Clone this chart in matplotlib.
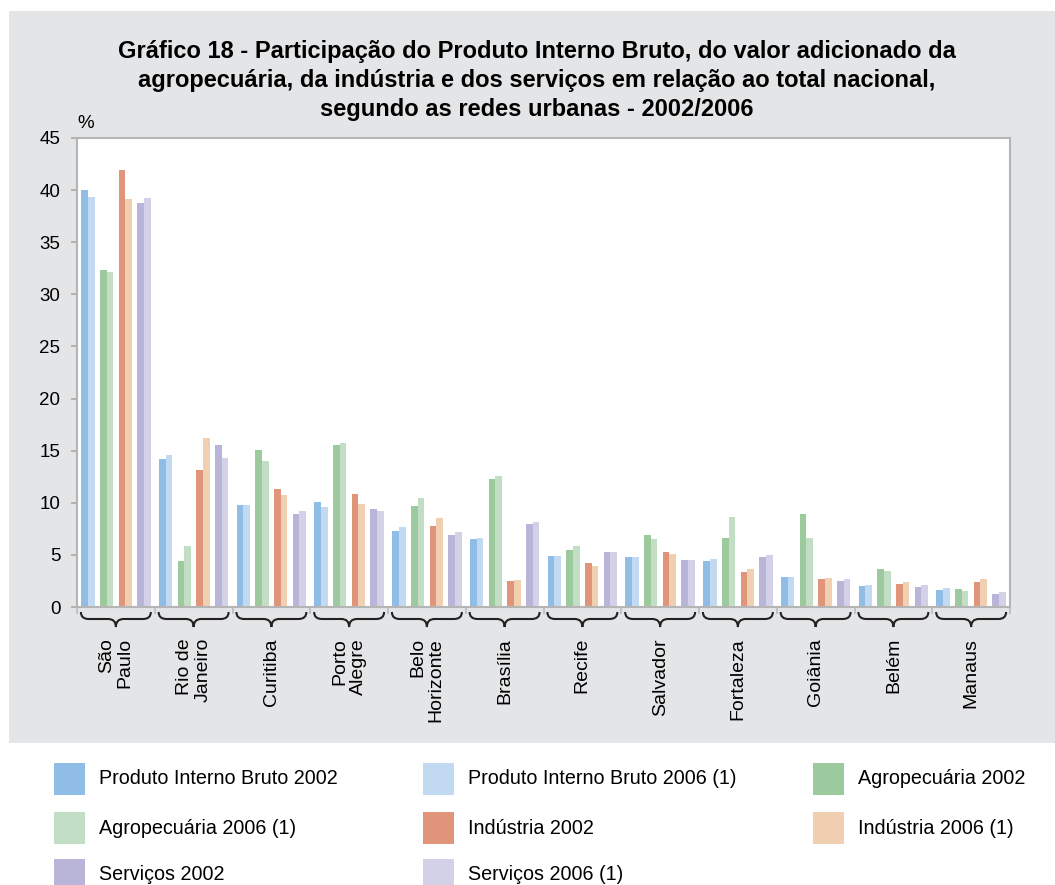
import numpy as np
import matplotlib
matplotlib.use("Agg")
import matplotlib.pyplot as plt
from matplotlib.patches import Rectangle, PathPatch
from matplotlib.path import Path
import matplotlib.transforms as mtransforms

plt.rcParams['font.family'] = ['Liberation Sans', 'DejaVu Sans']

cidades = ["São\nPaulo", "Rio de\nJaneiro", "Curitiba", "Porto\nAlegre", "Belo\nHorizonte",
           "Brasília", "Recife", "Salvador", "Fortaleza", "Goiânia", "Belém", "Manaus"]

pib_2002 = [40.0, 14.2, 9.8, 10.1, 7.3, 6.5, 4.9, 4.8, 4.4, 2.9, 2.0, 1.6]
pib_2006 = [39.3, 14.6, 9.8, 9.6, 7.7, 6.6, 4.9, 4.8, 4.6, 2.9, 2.1, 1.8]
agro_2002 = [32.3, 4.4, 15.1, 15.5, 9.7, 12.3, 5.5, 6.9, 6.6, 8.9, 3.6, 1.7]
agro_2006 = [32.1, 5.9, 14.0, 15.7, 10.5, 12.6, 5.9, 6.5, 8.6, 6.6, 3.5, 1.5]
ind_2002 = [41.9, 13.1, 11.3, 10.8, 7.8, 2.5, 4.2, 5.3, 3.4, 2.7, 2.2, 2.4]
ind_2006 = [39.1, 16.2, 10.7, 9.9, 8.5, 2.6, 3.9, 5.1, 3.6, 2.8, 2.4, 2.7]
serv_2002 = [38.8, 15.5, 8.9, 9.4, 6.9, 8.0, 5.3, 4.5, 4.8, 2.5, 1.9, 1.2]
serv_2006 = [39.2, 14.3, 9.2, 9.2, 7.2, 8.2, 5.3, 4.5, 5.0, 2.7, 2.1, 1.4]

series_names = ["Produto Interno Bruto 2002", "Produto Interno Bruto 2006 (1)",
                "Agropecuária 2002", "Agropecuária 2006 (1)",
                "Indústria 2002", "Indústria 2006 (1)",
                "Serviços 2002", "Serviços 2006 (1)"]
series = [pib_2002, pib_2006, agro_2002, agro_2006, ind_2002, ind_2006, serv_2002, serv_2006]
colors = ["#8fbde6", "#c2daf1", "#9cc99e", "#c2dec4",
          "#e0957a", "#f0d0b0", "#b9b5d9", "#d3d1e8"]

titulo = ("Gráfico 18 - Participação do Produto Interno Bruto, do valor adicionado da\n"
          "agropecuária, da indústria e dos serviços em relação ao total nacional,\n"
          "segundo as redes urbanas - 2002/2006")

W, H = 1055, 885
fig = plt.figure(figsize=(W / 100, H / 100), dpi=100)
fig.patch.set_facecolor("white")

# grey panel behind the chart
bg = "#e4e5e7"
fig.add_artist(Rectangle((9 / W, (H - 743) / H), 1 - 9 / W, (743 - 11) / H,
                         transform=fig.transFigure, facecolor=bg, edgecolor="none", zorder=0))

ax = fig.add_axes([77 / W, (H - 607) / H, (1010 - 77) / W, (607 - 138) / H])
ax.set_facecolor("white")

x = np.arange(len(cidades))
offsets = [-0.36, -0.12, 0.12, 0.36]
bw = 0.086
for i, (vals, c) in enumerate(zip(series, colors)):
    pair = i // 2
    dx = offsets[pair] + (-bw / 2 if i % 2 == 0 else bw / 2)
    ax.bar(x + dx, vals, width=bw, color=c, zorder=2)

ax.set_xlim(-0.5, len(cidades) - 0.5)
ax.set_ylim(0, 45)
ax.set_yticks(range(0, 46, 5))
ax.tick_params(axis="y", labelsize=13.5, length=4, color="#aaaaaa", width=1.2, pad=8)
ax.set_xticks([])
ax.set_xticks(np.arange(-0.5, len(cidades), 1), minor=True)
ax.tick_params(axis="x", which="minor", length=5, color="#bbbbbb", width=1.2, labelbottom=False)
for s in ax.spines.values():
    s.set_color("#b5b5b5")
    s.set_linewidth(1.5)

ax.text(0, 1 + 6 / 469, "%", transform=ax.transAxes, ha="left", va="bottom", fontsize=13.5)

# curly braces and labels under each group
trans = mtransforms.blended_transform_factory(ax.transData, ax.transAxes)
ytop, ymid, ybot = -5 / 469, -12 / 469, -20 / 469
hw, r = 0.45, 0.1
for xi, nome in zip(x, cidades):
    x0, x1 = xi - hw, xi + hw
    verts = [(x0, ytop), (x0, ymid), (x0 + r, ymid),
             (xi - r, ymid), (xi, ymid), (xi, ybot),
             (xi, ymid), (xi + r, ymid),
             (x1 - r, ymid), (x1, ymid), (x1, ytop)]
    codes = [Path.MOVETO, Path.CURVE3, Path.CURVE3,
             Path.LINETO, Path.CURVE3, Path.CURVE3,
             Path.CURVE3, Path.CURVE3,
             Path.LINETO, Path.CURVE3, Path.CURVE3]
    ax.add_patch(PathPatch(Path(verts, codes), transform=trans, facecolor="none",
                           edgecolor="#222222", linewidth=1.5, clip_on=False))
    ax.text(xi, -31 / 469, nome, transform=trans, rotation=90, ha="center", va="top",
            multialignment="right", fontsize=14, linespacing=1.15)

fig.text(537 / W, 1 - 40 / H, titulo, ha="center", va="top", fontsize=17,
         fontweight="bold", linespacing=1.32)

# legend, three per row
col_x = [54, 423, 813]
row_y = [779, 828, 875]
for i, (nome, c) in enumerate(zip(series_names, colors)):
    cx, cy = col_x[i % 3], row_y[i // 3]
    fig.add_artist(Rectangle((cx / W, (H - cy - 16) / H), 31 / W, 32 / H,
                             transform=fig.transFigure, facecolor=c, edgecolor="none"))
    fig.text((cx + 45) / W, (H - cy) / H, nome, ha="left", va="center", fontsize=14.2)

fig.savefig("out.png", dpi=100)
